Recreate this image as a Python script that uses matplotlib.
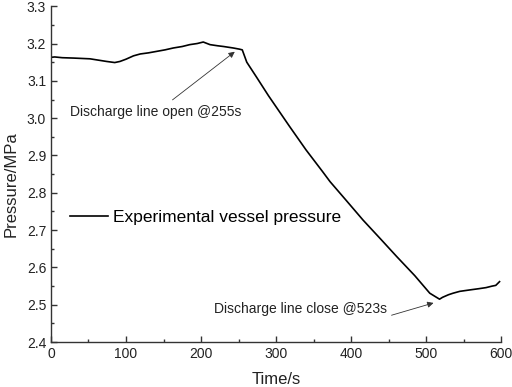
import matplotlib.pyplot as plt
from matplotlib.ticker import MultipleLocator

plt.rcParams['font.family'] = ['Liberation Sans', 'DejaVu Sans']

# pressure curve
time = [0, 5, 15, 30, 52, 74, 85, 92, 100, 110, 119, 130, 141, 152, 163, 175, 185, 195,
        203, 212, 222, 230, 243, 251, 255, 261, 274, 290, 318, 340, 362, 372, 393, 416,
        440, 461, 485, 505, 518, 522, 530, 536, 545, 559, 570, 580, 588, 593, 598]
pressure = [3.163, 3.164, 3.162, 3.161, 3.159, 3.152, 3.149, 3.152, 3.158, 3.167, 3.172,
            3.175, 3.179, 3.183, 3.188, 3.192, 3.197, 3.200, 3.204, 3.197, 3.194, 3.192,
            3.188, 3.185, 3.183, 3.150, 3.110, 3.060, 2.978, 2.915, 2.857, 2.830, 2.781,
            2.727, 2.675, 2.629, 2.578, 2.531, 2.515, 2.520, 2.527, 2.531, 2.536, 2.540,
            2.543, 2.546, 2.550, 2.552, 2.562]

fig = plt.figure(figsize=(5.12, 3.87), dpi=100)
ax = fig.add_axes([0.0996, 0.116, 0.879, 0.868])

ax.plot(time, pressure, color='black', lw=1.2, label='Experimental vessel pressure')

ax.set_xlim(0, 600)
ax.set_ylim(2.4, 3.3)
ax.xaxis.set_major_locator(MultipleLocator(100))
ax.xaxis.set_minor_locator(MultipleLocator(50))
ax.yaxis.set_major_locator(MultipleLocator(0.1))
ax.yaxis.set_minor_locator(MultipleLocator(0.05))
ax.yaxis.set_major_formatter(plt.FormatStrFormatter('%.1f'))

for s in ['top', 'right']:
    ax.spines[s].set_visible(False)
for s in ['left', 'bottom']:
    ax.spines[s].set_color('#333333')
    ax.spines[s].set_linewidth(1.0)
ax.tick_params(which='major', direction='in', length=4, width=1, colors='#333333',
               labelsize=10, labelcolor='#222222')
ax.tick_params(which='minor', direction='in', length=2.4, width=1, colors='#333333')

ax.set_xlabel('Time/s', fontsize=12, color='#222222')
ax.xaxis.set_label_coords(0.5, -0.088)
ax.set_ylabel('Pressure/MPa', fontsize=12, color='#222222')
ax.yaxis.set_label_coords(-0.071, 0.47)

ax.legend(loc='center left', bbox_to_anchor=(0.042, 0.37), frameon=False,
          fontsize=12.5, handlelength=2.2, handletextpad=0.3, borderpad=0,
          borderaxespad=0)

# annotations: arrow only, text placed separately
arrow = dict(arrowstyle='-|>', color='#333333', lw=0.6, mutation_scale=9,
             shrinkA=0, shrinkB=0)
ax.annotate('', xy=(245, 3.178), xytext=(162, 3.049), arrowprops=arrow)
ax.text(140, 3.017, 'Discharge line open @255s', fontsize=10, color='#222222',
        ha='center', va='center')

ax.annotate('', xy=(510, 2.505), xytext=(454, 2.472), arrowprops=arrow)
ax.text(332, 2.49, 'Discharge line close @523s', fontsize=10, color='#222222',
        ha='center', va='center')

fig.savefig('out.png', dpi=100)
